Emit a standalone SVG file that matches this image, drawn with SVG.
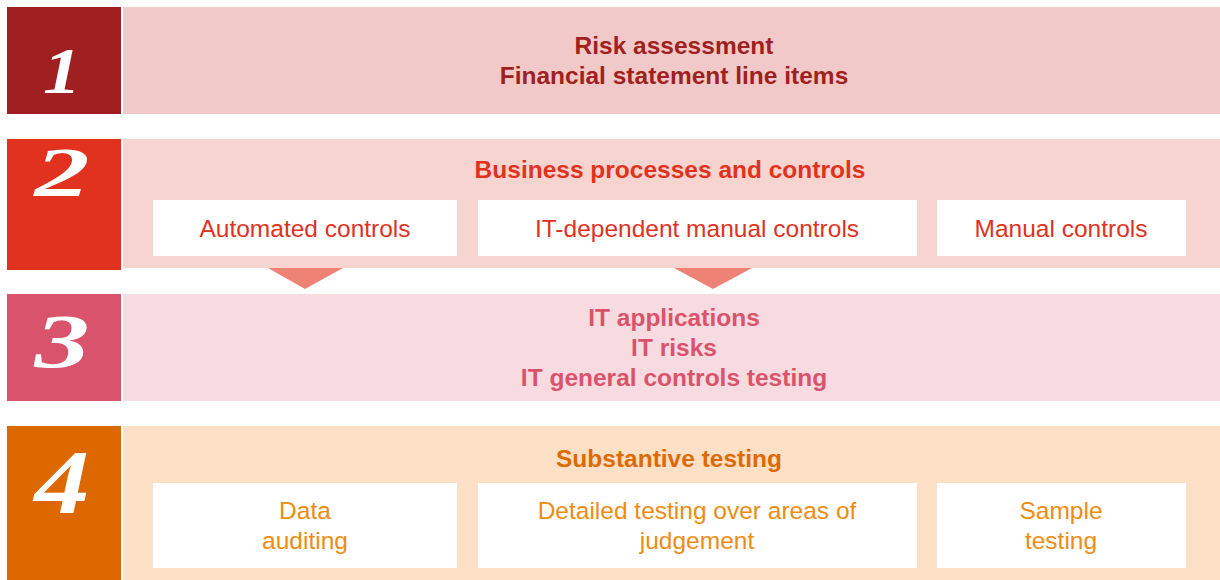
<svg xmlns="http://www.w3.org/2000/svg" width="1220" height="580" viewBox="0 0 1220 580">
<style>
.num{font-family:"Liberation Serif",serif;font-weight:bold;font-style:italic;fill:#fff;text-anchor:middle}
.t{font-family:"Liberation Sans",Arial,sans-serif;font-size:24.5px;text-anchor:middle}
.b{font-weight:bold}
.box{fill:#fff}
.arrow{fill:#EE8275}
</style>
<rect width="1220" height="580" fill="#fff"/>
<g id="row1">
<rect x="7" y="7" width="114" height="107" fill="#A01F20"/>
<rect x="123" y="7" width="1097" height="107" fill="#F2C9C9"/>
<text class="num" x="62" y="93" font-size="66" textLength="38" lengthAdjust="spacingAndGlyphs">1</text>
<text class="t b" x="674" y="54" fill="#A01F20">Risk assessment</text>
<text class="t b" x="674" y="84" fill="#A01F20">Financial statement line items</text>
</g>
<g id="row2">
<rect x="7" y="139" width="114" height="131" fill="#E0321E"/>
<rect x="123" y="139" width="1097" height="129" fill="#F8D4D1"/>
<text class="num" x="62" y="196" font-size="69" textLength="55" lengthAdjust="spacingAndGlyphs">2</text>
<text class="t b" x="670" y="178" fill="#E0321E">Business processes and controls</text>
</g>
<g id="row2-automated">
<rect class="box" x="153" y="200" width="304" height="56"/>
<text class="t" x="305" y="237" fill="#E0321E">Automated controls</text>
</g>
<g id="row2-itdependent">
<rect class="box" x="478" y="200" width="439" height="56"/>
<text class="t" x="697" y="237" fill="#E0321E">IT-dependent manual controls</text>
</g>
<g id="row2-manual">
<rect class="box" x="937" y="200" width="249" height="56"/>
<text class="t" x="1061" y="237" fill="#E0321E">Manual controls</text>
</g>
<g id="connectors">
<polygon class="arrow" points="268,268 343,268 305,289"/>
<polygon class="arrow" points="674,268 752,268 713,289"/>
</g>
<g id="row3">
<rect x="7" y="294" width="114" height="107" fill="#DA536C"/>
<rect x="123" y="294" width="1097" height="107" fill="#F7DBE0"/>
<text class="num" x="62" y="367" font-size="76" textLength="55" lengthAdjust="spacingAndGlyphs">3</text>
<text class="t b" x="674" y="326" fill="#DA536C">IT applications</text>
<text class="t b" x="674" y="356" fill="#DA536C">IT risks</text>
<text class="t b" x="674" y="386" fill="#DA536C">IT general controls testing</text>
</g>
<g id="row4">
<rect x="7" y="426" width="114" height="154" fill="#DD6800"/>
<rect x="123" y="426" width="1097" height="154" fill="#FDE0C5"/>
<text class="num" x="62" y="513" font-size="92" textLength="55" lengthAdjust="spacingAndGlyphs">4</text>
<text class="t b" x="669" y="467" fill="#DD6B05">Substantive testing</text>
</g>
<g id="row4-data">
<rect class="box" x="153" y="483" width="304" height="85"/>
<text class="t" x="305" y="519" fill="#EE8C12">Data</text>
<text class="t" x="305" y="549" fill="#EE8C12">auditing</text>
</g>
<g id="row4-detailed">
<rect class="box" x="478" y="483" width="439" height="85"/>
<text class="t" x="697" y="519" fill="#EE8C12">Detailed testing over areas of</text>
<text class="t" x="697" y="549" fill="#EE8C12">judgement</text>
</g>
<g id="row4-sample">
<rect class="box" x="937" y="483" width="249" height="85"/>
<text class="t" x="1061" y="519" fill="#EE8C12">Sample</text>
<text class="t" x="1061" y="549" fill="#EE8C12">testing</text>
</g>
</svg>
